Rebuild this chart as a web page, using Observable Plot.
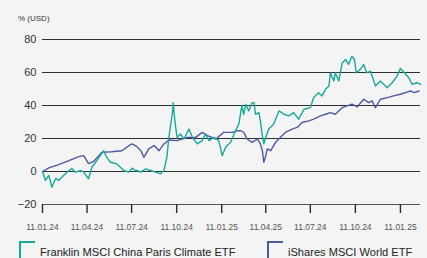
<!DOCTYPE html>
<html><head><meta charset="utf-8">
<script src="https://cdn.jsdelivr.net/npm/d3@7"></script>
<script src="https://cdn.jsdelivr.net/npm/@observablehq/plot@0.6"></script>
<style>
body{margin:0;background:#f4f4f4;font-family:"Liberation Sans",Arial,sans-serif;}
#wrap{position:relative;width:427px;height:258px;overflow:hidden;background:#f4f4f4;}
#unit{position:absolute;left:18px;top:14px;font-size:8px;color:#333;}
#chart{position:absolute;left:0;top:0;}
.leg{position:absolute;top:241px;font-size:11.1px;color:#222;white-space:nowrap;}
.leg .mk{position:absolute;left:0;top:0;width:16px;height:20px;border-top:2px solid;border-left:2px solid;box-sizing:border-box;}
.leg .tx{position:absolute;left:21px;top:5px;}
</style>
</head><body>
<div id="wrap">
  <div id="chart"></div>
  <div id="unit">% (USD)</div>
  <div class="leg" id="leg1" style="left:19px"><span class="mk" style="border-color:#17a99a"></span><span class="tx"></span></div>
  <div class="leg" id="leg2" style="left:267px"><span class="mk" style="border-color:#4d5aa6"></span><span class="tx"></span></div>
</div>
<script>
const seriesNames = ["Franklin MSCI China Paris Climate ETF", "iShares MSCI World ETF"];
const seriesColors = ["#17a99a", "#4d5aa6"];

const tealDates = ["2024-01-11","2024-01-17","2024-01-24","2024-01-30","2024-02-07","2024-02-13","2024-02-23","2024-03-05","2024-03-11","2024-03-18","2024-03-29","2024-04-04","2024-04-14","2024-04-21","2024-05-01","2024-05-15","2024-05-21","2024-05-29","2024-06-11","2024-06-25","2024-07-05","2024-07-12","2024-07-19","2024-07-23","2024-07-29","2024-08-09","2024-08-19","2024-08-29","2024-09-08","2024-09-15","2024-09-21","2024-09-25","2024-09-29","2024-10-02","2024-10-04","2024-10-06","2024-10-09","2024-10-12","2024-10-19","2024-10-26","2024-11-05","2024-11-12","2024-11-22","2024-12-02","2024-12-09","2024-12-16","2024-12-26","2025-01-05","2025-01-12","2025-01-19","2025-01-29","2025-02-08","2025-02-15","2025-02-21","2025-02-25","2025-03-01","2025-03-07","2025-03-14","2025-03-18","2025-03-21","2025-03-28","2025-03-31","2025-04-04","2025-04-07","2025-04-11","2025-04-17","2025-04-27","2025-05-08","2025-05-18","2025-05-28","2025-06-07","2025-06-17","2025-06-28","2025-07-11","2025-07-18","2025-07-28","2025-08-04","2025-08-11","2025-08-18","2025-08-21","2025-08-28","2025-08-31","2025-09-07","2025-09-14","2025-09-21","2025-09-27","2025-10-04","2025-10-09","2025-10-13","2025-10-21","2025-10-28","2025-11-03","2025-11-11","2025-11-21","2025-12-01","2025-12-15","2025-12-25","2026-01-04","2026-01-11","2026-01-19","2026-01-28","2026-02-04","2026-02-14","2026-02-21"];
const tealValues = [0,-5.4,-2.4,-9.5,-4.2,-5.4,-2.4,0.6,1.8,-0.4,0.6,-0.4,-4.4,2.6,6.6,12.6,8.6,5.6,4.6,0.6,-0.4,2.0,0.6,0.6,-0.4,1.6,0.6,-0.4,-1.4,0.6,8.6,20.7,28.7,34.7,41.7,34.7,26.7,20.7,22.7,19.7,25.7,20.7,16.7,18.7,22.7,18.7,20.7,18.7,9.6,14.7,17.7,24.7,28.7,39.8,34.7,40.8,36.7,41.7,41.7,34.7,35.7,30.7,21.7,16.7,20.7,25.7,28.7,36.7,34.7,33.7,35.7,31.7,37.7,38.7,44.8,47.8,45.8,49.8,51.8,59.8,54.8,59.8,54.8,65.8,67.9,64.9,69.9,67.9,59.8,61.9,64.9,59.8,60.8,51.8,54.8,50.8,53.8,57.8,62.5,59.8,56.8,52.8,53.8,52.8];

const blueDates = ["2024-01-11","2024-01-24","2024-02-13","2024-03-05","2024-03-25","2024-04-04","2024-04-14","2024-04-25","2024-05-11","2024-05-31","2024-06-21","2024-07-11","2024-07-19","2024-07-30","2024-08-05","2024-08-15","2024-08-26","2024-09-05","2024-09-15","2024-09-25","2024-10-12","2024-11-02","2024-11-19","2024-12-02","2024-12-13","2024-12-30","2025-01-15","2025-02-02","2025-02-12","2025-02-19","2025-02-25","2025-03-04","2025-03-14","2025-03-25","2025-03-31","2025-04-04","2025-04-07","2025-04-11","2025-04-14","2025-04-21","2025-05-01","2025-05-11","2025-05-21","2025-06-04","2025-06-14","2025-06-24","2025-07-08","2025-07-18","2025-08-01","2025-08-11","2025-08-21","2025-08-31","2025-09-14","2025-09-24","2025-10-04","2025-10-15","2025-10-28","2025-11-07","2025-11-14","2025-11-21","2025-12-01","2025-12-15","2025-12-28","2026-01-11","2026-01-21","2026-02-01","2026-02-08","2026-02-18"];
const blueValues = [0,2.2,4.2,6.6,9,9.6,4.8,6.2,11.6,12,12.6,16.7,15.7,12.6,8.6,13.7,15.7,12.6,16.7,19.1,18.7,20.7,20.7,23.7,21.7,19.7,23.7,23.7,24.7,24.7,23.7,19.7,17.7,19.7,16.7,12.6,5.6,9.6,13.7,12.6,17.7,20.7,23.7,25.7,26.7,29.7,30.7,31.7,33.7,34.7,35.7,34.7,38.7,39.8,40.8,39.2,43.8,41.7,42.8,38.7,43.8,44.8,45.8,46.8,47.8,48.8,47.8,48.8];

const gridValues = [0, 20, 40, 60, 80];
const yTicks = [-20, 0, 20, 40, 60, 80];
const yMin = -20;
const xTickDates = ["2024-01-11","2024-04-11","2024-07-11","2024-10-11","2025-01-11","2025-04-11","2025-07-11","2025-10-11","2026-01-11"];
const xTickLabels = ["11.01.24","11.04.24","11.07.24","11.10.24","11.01.25","11.04.25","11.07.24","11.10.24","11.01.25"];
const xDomain = ["2024-01-11", "2026-02-21"];

const parse = s => new Date(s + "T00:00:00Z");
const teal = tealDates.map((d, i) => ({date: parse(d), v: tealValues[i]}));
const blue = blueDates.map((d, i) => ({date: parse(d), v: blueValues[i]}));
const tickD = xTickDates.map(parse);
const labelMap = new Map(tickD.map((d, i) => [+d, xTickLabels[i]]));

const chart = Plot.plot({
  width: 427, height: 236,
  marginLeft: 42, marginRight: 7, marginTop: 39, marginBottom: 32,
  style: {background: "transparent", fontFamily: "'Liberation Sans', Arial, sans-serif", overflow: "visible"},
  x: {type: "utc", domain: xDomain.map(parse)},
  y: {domain: [yMin, 80]},
  marks: [
    Plot.ruleY(gridValues, {stroke: "#2f2f2f", strokeWidth: 1}),
    Plot.ruleY([yMin], {stroke: "#555", strokeWidth: 1}),
    Plot.axisY({ticks: yTicks, tickSize: 0, tickPadding: 6, fontSize: 11, color: "#333", label: null}),
    Plot.axisX({ticks: tickD, tickFormat: d => labelMap.get(+d), tickSize: 9, tickPadding: 10, fontSize: 8.5, stroke: "#2a2a2a", strokeWidth: 1.4, fill: "#555", label: null}),
    Plot.line(blue, {x: "date", y: "v", stroke: seriesColors[1], strokeWidth: 1.4}),
    Plot.line(teal, {x: "date", y: "v", stroke: seriesColors[0], strokeWidth: 1.4})
  ]
});
document.getElementById("chart").appendChild(chart);
document.querySelector("#leg1 .tx").textContent = seriesNames[0];
document.querySelector("#leg2 .tx").textContent = seriesNames[1];
</script>
</body></html>
